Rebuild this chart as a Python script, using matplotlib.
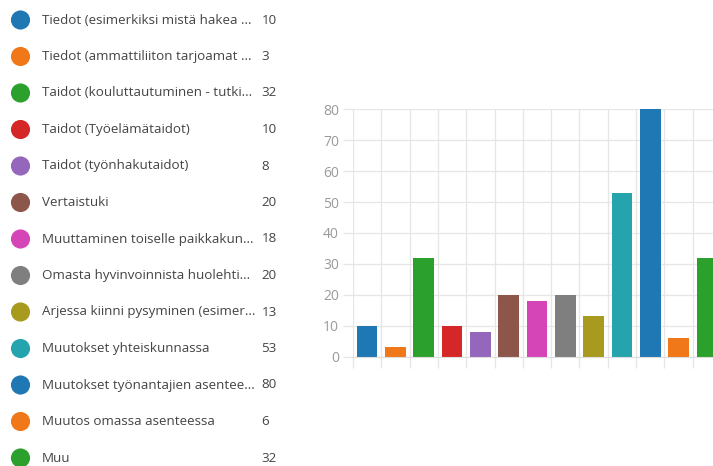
import matplotlib.pyplot as plt
import numpy as np

labels = [
    "Tiedot (esimerkiksi mistä hakea ...",
    "Tiedot (ammattiliiton tarjoamat ...",
    "Taidot (kouluttautuminen - tutki...",
    "Taidot (Työelämätaidot)",
    "Taidot (työnhakutaidot)",
    "Vertaistuki",
    "Muuttaminen toiselle paikkakun...",
    "Omasta hyvinvoinnista huolehti...",
    "Arjessa kiinni pysyminen (esimer...",
    "Muutokset yhteiskunnassa",
    "Muutokset työnantajien asentee...",
    "Muutos omassa asenteessa",
    "Muu",
]
values = [10, 3, 32, 10, 8, 20, 18, 20, 13, 53, 80, 6, 32]
colors = ["#1f77b4", "#f07818", "#2ca02c", "#d62728", "#9467bd", "#8c564b",
          "#d645b8", "#7f7f7f", "#a89a1f", "#26a4ae", "#1f77b4", "#f07818", "#2ca02c"]
yticks = [0, 10, 20, 30, 40, 50, 60, 70, 80]

W, H = 713, 466
fig = plt.figure(figsize=(W / 100, H / 100), dpi=100)
plt.rcParams['font.family'] = ['Open Sans', 'DejaVu Sans']

# legend list on the left (pixel coordinates)
lax = fig.add_axes([0, 0, 1, 1], zorder=0)
lax.set_xlim(0, W)
lax.set_ylim(H, 0)
lax.axis('off')
idx = np.arange(len(labels))
row_y = 20 + idx * 36.5
lax.scatter(np.full(len(labels), 20.5), row_y, s=190, c=colors, edgecolors='none')
for i, (lab, val) in enumerate(zip(labels, values)):
    lax.text(41.5, row_y[i], lab, fontsize=9.6, color='#444444', va='center', ha='left')
    lax.text(261.5, row_y[i], str(val), fontsize=9.6, color='#444444', va='center', ha='left')

# bar chart
ax = fig.add_axes([353 / W, (H - 356.7) / H, 368 / W, 247.4 / H], zorder=1)
ax.patch.set_alpha(0)
x = np.arange(len(values))
ax.bar(x, values, width=0.73, color=colors, zorder=2)
ax.set_xlim(-0.5, len(values) - 0.5)
ax.set_ylim(0, 80)
ax.set_yticks(yticks)
ax.set_xticks(np.arange(-0.5, len(values), 1))
ax.set_xticklabels([])
ax.grid(True, color='#e6e6e6', linewidth=0.9)
ax.set_axisbelow(True)
for s in ['top', 'right', 'left']:
    ax.spines[s].set_visible(False)
ax.spines['bottom'].set_color('#dddddd')
ax.tick_params(axis='x', length=8, color='#e6e6e6', width=0.9)
ax.tick_params(axis='y', length=7, color='#e6e6e6', width=0.9, labelcolor='#9a9a9a',
               labelsize=10, pad=3)

fig.savefig('out.png', dpi=100)
